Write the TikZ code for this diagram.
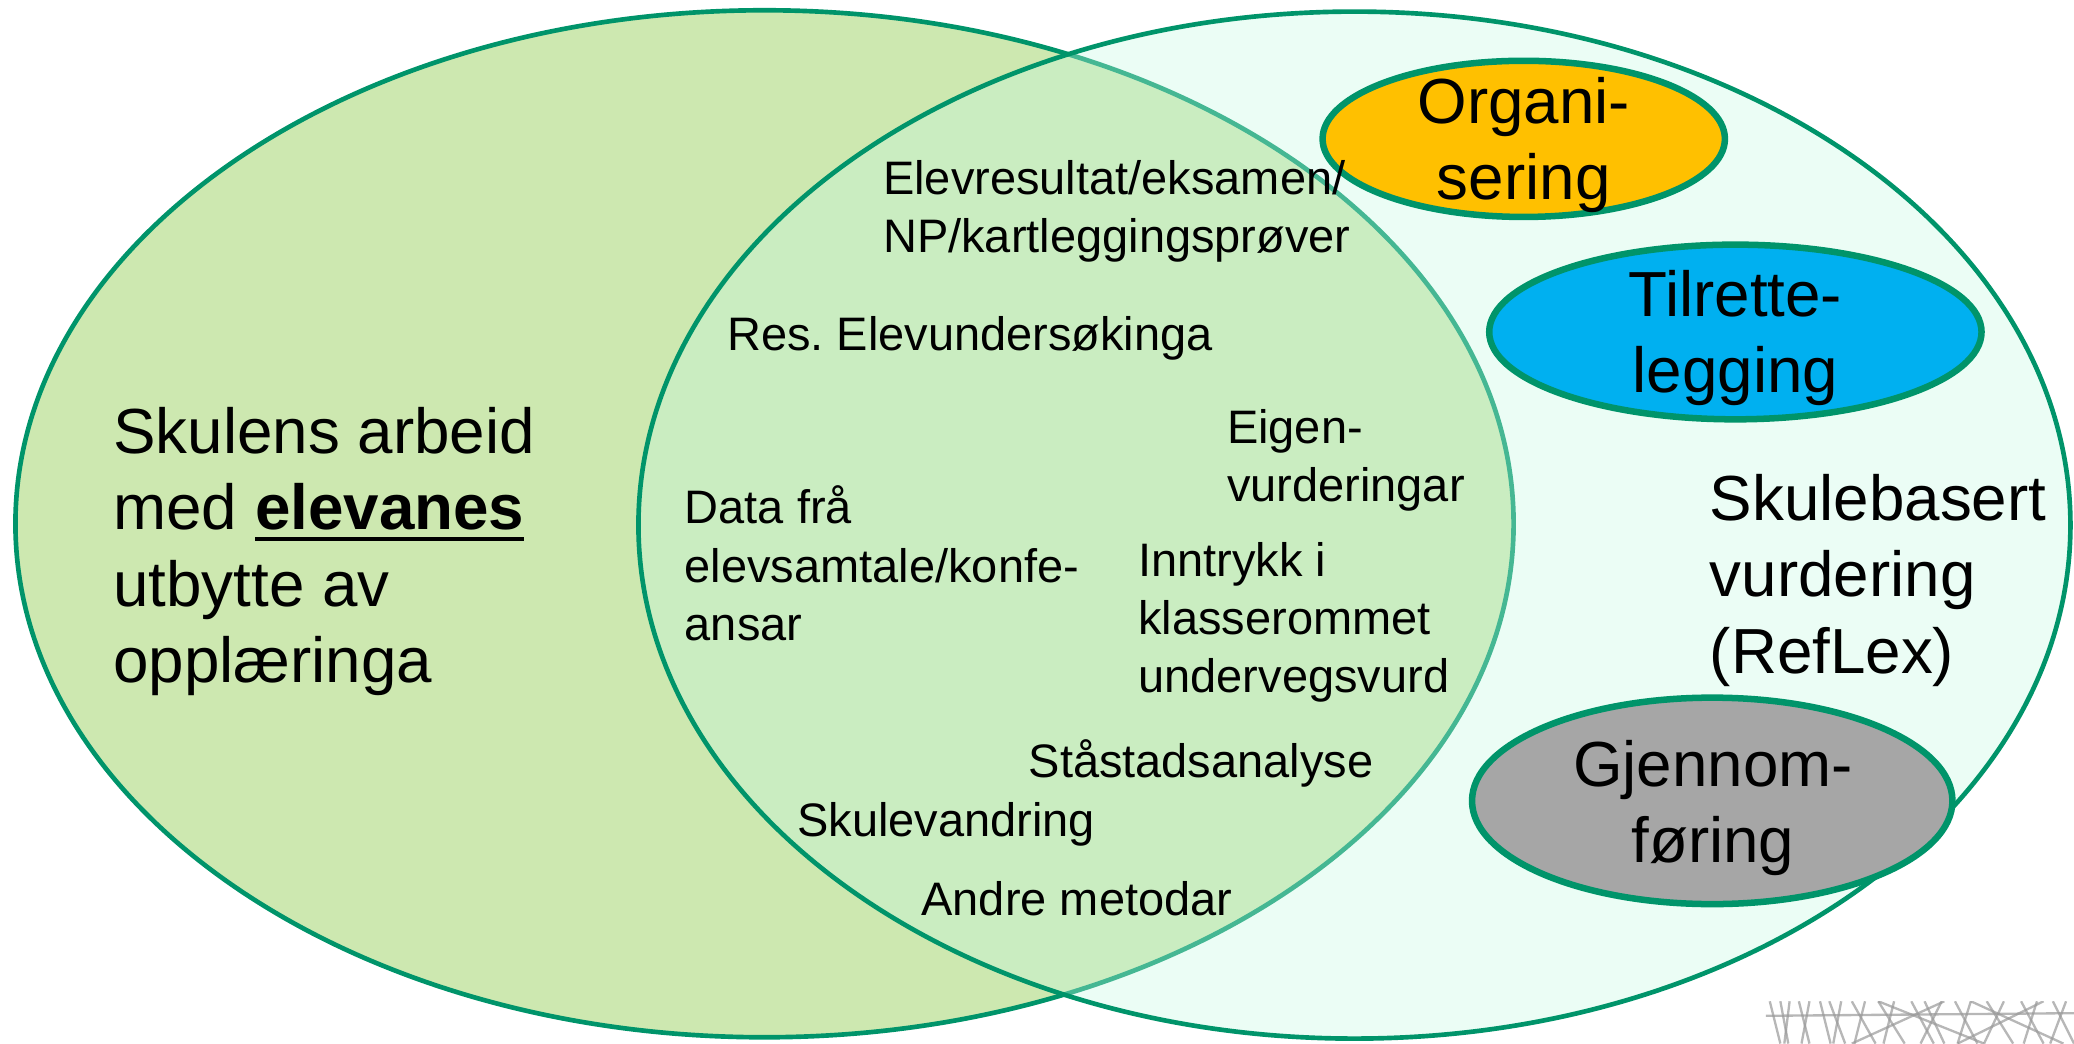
\documentclass[tikz,border=0pt]{standalone}
\usepackage{fontspec}
\setmainfont{Liberation Sans}
\usetikzlibrary{shapes.geometric,positioning}

\definecolor{vennline}{RGB}{0,148,106}
\definecolor{leftfill}{RGB}{205,232,176}
\definecolor{rightfill}{RGB}{198,249,226}
\definecolor{orgfill}{RGB}{255,192,0}
\definecolor{tilfill}{RGB}{0,176,240}
\definecolor{gjfill}{RGB}{166,166,166}

\newcommand\thickul[1]{\setbox0\hbox{#1}\rlap{\raisebox{-2.3pt}{\rule{\wd0}{0.85pt}}}\box0}

\begin{document}
\frenchspacing
\begin{tikzpicture}[
x=0.01cm,y=-0.01cm,
venn/.style={
	ellipse,
	draw=vennline,
	line width=1pt,
	inner sep=0pt
},
blob/.style={
	ellipse,
	draw=vennline,
	line width=1.4pt,
	inner sep=0pt
},
small/.style={
	anchor=base west,
	align=left,
	inner sep=0pt,
	font=\fontsize{10.1}{12.5}\selectfont
},
big/.style={
	align=left,
	inner sep=0pt,
	font=\fontsize{13.7}{16.4}\selectfont
},
hatch/.style={
	draw=black!40,
	line width=0.5pt,
	opacity=0.7
}
]
\useasboundingbox (0,0) rectangle (1568,789);

\node[venn,fill=leftfill,minimum width=11.32cm,minimum height=7.76cm] (skule) at (578,396) {};
\node[venn,fill=rightfill,fill opacity=0.35,minimum width=10.82cm,minimum height=7.76cm] (reflex) at (1024,397) {};

\node[blob,fill=orgfill,minimum width=3.04cm,minimum height=1.18cm] (org) at (1152,105) {};
\node[blob,fill=tilfill,minimum width=3.72cm,minimum height=1.32cm] (til) at (1312,251) {};
\node[blob,fill=gjfill,minimum width=3.63cm,minimum height=1.56cm] (gj) at (1294.5,605.5) {};

% multi-line texts sit on the base line of their last line
\node[big,align=center,anchor=base] (orgtxt) at (1152,151) {Organi-\\sering};
\node[big,align=center,anchor=base] (tiltxt) at (1312,296.8) {Tilrette-\\legging};
\node[big,align=center,anchor=base] (gjtxt) at (1295,652) {Gjennom-\\føring};

\node[big,anchor=base west] (arbeid) at (85,516) {Skulens arbeid\\med \thickul{\textbf{elevanes}}\\utbytte av\\opplæringa};
\node[big,anchor=base west] (skulebasert) at (1292,509) {Skulebasert\\vurdering\\(RefLex)};

\node[small] (resultat) at (667,191) {Elevresultat/eksamen/\\NP/kartleggingsprøver};
\node[small] (eigen) at (927,379) {Eigen-\\vurderingar};
\node[small] (data) at (517,484) {Data frå\\elevsamtale/konfe-\\ansar};
\node[small] (inntrykk) at (860,523.6) {Inntrykk i\\klasserommet\\undervegsvurd};

\foreach \n/\x/\y/\t in {elevund/549/265/Res. Elevundersøkinga,
	staastad/777/588/Ståstadsanalyse,
	vandring/602/632.5/Skulevandring,
	metodar/696/692.5/Andre metodar}
\node[small] (\n) at (\x,\y) {\t};

% bit of the logo in the corner
\begin{scope}
\clip (1335,757) rectangle (1568,789);
\foreach \a/\b in {1338/1346,1346/1352,1353/1349,1360/1368,1368/1362,1376/1384,1383/1395,1392/1386,1400/1418,1410/1402,1420/1440,1432/1424,1445/1462,1455/1470,1468/1452,1478/1495,1490/1480,1502/1522,1515/1500,1528/1545,1540/1530,1552/1568,1562/1550}
\draw[hatch] (\a,757) -- (\b,789);
\foreach \a/\b in {1420/1500,1470/1400,1490/1560,1545/1480}
\draw[hatch] (\a,757) -- (\b,789);
\draw[hatch] (1335,768) -- (1568,766);
\end{scope}
\end{tikzpicture}
\end{document}
